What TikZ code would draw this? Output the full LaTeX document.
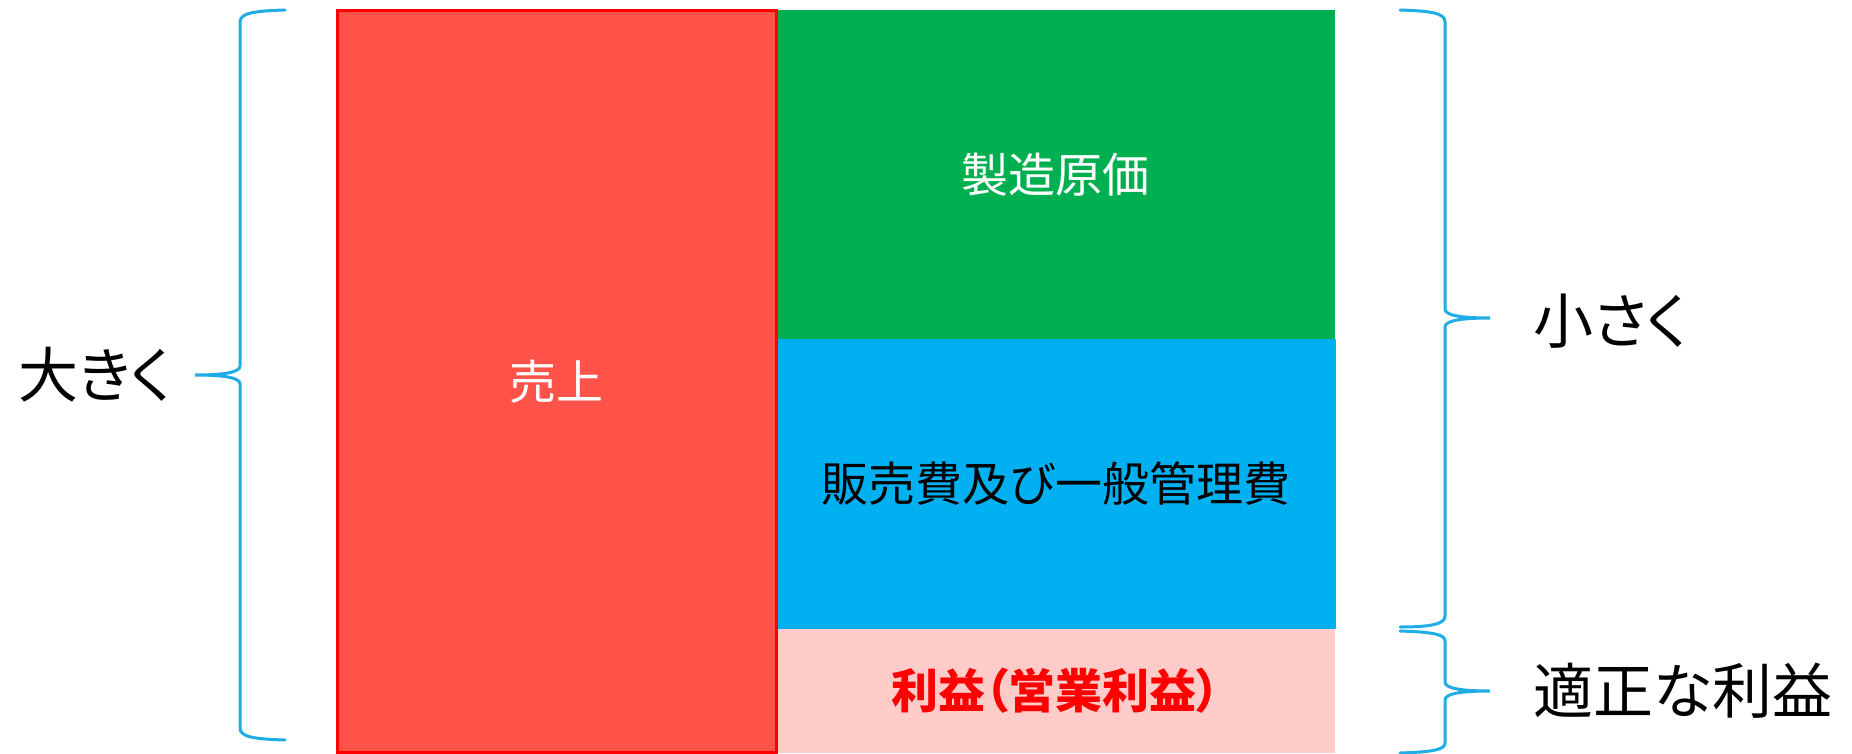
\documentclass[tikz,border=0pt]{standalone}
\usepackage{fontspec}
\setmainfont[RawFeature=+palt]{Noto Sans CJK JP}
\definecolor{salesred}{RGB}{255,83,73}
\definecolor{costgreen}{RGB}{0,176,80}
\definecolor{sgablue}{RGB}{0,176,240}
\definecolor{profitpink}{RGB}{255,204,201}
\definecolor{bracecol}{RGB}{32,172,228}
\tikzset{
  block/.style={rectangle, inner sep=0pt, outer sep=0pt, draw=none, align=center,
    font=\fontsize{23.5pt}{26pt}\selectfont},
  sidelabel/.style={inner sep=0pt, anchor=west, font=\fontsize{30pt}{32pt}\selectfont},
  bracestyle/.style={draw=bracecol, line width=1.5pt, line cap=round}
}
\begin{document}
\begin{tikzpicture}[x=0.5pt,y=-0.5pt]
\useasboundingbox (0,0) rectangle (1852,754);
% cost blocks
\node[block, fill=costgreen, text=white, minimum width=279.5pt, minimum height=164.5pt] (cost) at (1055.5,174.5) {製造原価};
\node[block, fill=sgablue, text=black, minimum width=280pt, minimum height=145pt] (sga) at (1056,484) {販売費及び一般管理費};
\node[block, fill=profitpink, text=red, minimum width=279.5pt, minimum height=62pt] (profit) at (1055.5,691) {\bfseries 利益（営業利益）};
% sales block
\node[block, fill=salesred, draw=red, line width=1.5pt, text=white, minimum width=219.5pt, minimum height=370.5pt] (sales) at (556.5,381.5) {売上};
% labels
\node[sidelabel] (big) at (18,375) {大きく};
\node[sidelabel] (small) at (1533,321) {小さく};
\node[sidelabel] (fair) at (1533,691) {適正な利益};
% left brace
\draw[bracestyle] (285,10) .. controls (254,11) and (240,13) .. (240,22)
  -- (240,366) .. controls (240,372) and (226,375) .. (195,375)
  .. controls (226,375) and (240,378) .. (240,384)
  -- (240,728) .. controls (240,737) and (254,739) .. (285,740);
% right brace 1
\draw[bracestyle] (1400,10) .. controls (1431,11) and (1445,13) .. (1445,22)
  -- (1445,309) .. controls (1445,315) and (1459,318) .. (1490,318)
  .. controls (1459,318) and (1445,321) .. (1445,327)
  -- (1445,616) .. controls (1445,624) and (1431,627) .. (1400,627);
% right brace 2
\draw[bracestyle] (1400,631) .. controls (1431,632) and (1445,634) .. (1445,641)
  -- (1445,682) .. controls (1445,688) and (1459,691) .. (1490,691)
  .. controls (1459,691) and (1445,694) .. (1445,700)
  -- (1445,743) .. controls (1445,750) and (1431,752) .. (1400,753);
\end{tikzpicture}
\end{document}
